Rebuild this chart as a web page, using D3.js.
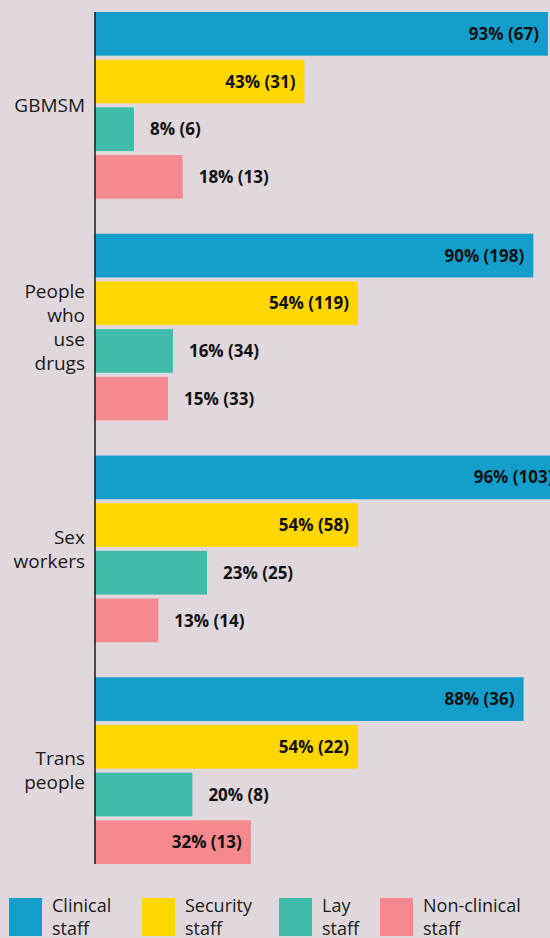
<!doctype html>
<html>
<head>
  <meta charset="utf8">
  <title>staff chart</title>
  <style>
    body {
      margin: 0;
      padding: 0;
      background: #e0d8dc;
    }
    svg { display: block; }
  </style>
</head>
<body>
  <svg></svg>

  <script src="https://d3js.org/d3.v7.min.js"></script>
  <script>
    // groups down the side, each with four staff bars
    const groups = ['GBMSM', 'People who use drugs', 'Sex workers', 'Trans people']
    const groupLines = [['GBMSM'], ['People', 'who', 'use', 'drugs'], ['Sex', 'workers'], ['Trans', 'people']]
    const series = ['Clinical staff', 'Security staff', 'Lay staff', 'Non-clinical staff']
    const seriesLines = [['Clinical', 'staff'], ['Security', 'staff'], ['Lay', 'staff'], ['Non-clinical', 'staff']]
    const colors = ['#139ecc', '#ffd700', '#3fbcac', '#f4898f']

    // percent and count, one row per group, in series order
    const percents = [
      [93, 43, 8, 18],
      [90, 54, 16, 15],
      [96, 54, 23, 13],
      [88, 54, 20, 32]
    ]
    const counts = [
      [67, 31, 6, 13],
      [198, 119, 34, 33],
      [103, 58, 25, 14],
      [36, 22, 8, 13]
    ]

    const width = 550
    const height = 938
    const font = '"Open Sans", sans-serif'

    const svg = d3.select('svg')
      .attr('width', width)
      .attr('height', height)

    const x = d3.scaleLinear()
      .domain([0, 100])
      .range([95, 582])

    const y = d3.scaleBand()
      .domain(groups)
      .range([12, 864])
      .paddingInner(0.158)

    const yInner = d3.scaleBand()
      .domain(series)
      .range([0, y.bandwidth()])
      .paddingInner(0.084)

    const rows = []
    groups.forEach((g, gi) => {
      series.forEach((s, si) => {
        rows.push({ group: g, series: s, si, pct: percents[gi][si], n: counts[gi][si] })
      })
    })

    const bars = svg.append('g')
      .selectAll('g')
      .data(rows)
      .join('g')
      .attr('transform', d => `translate(0,${y(d.group) + yInner(d.series)})`)

    bars.append('rect')
      .attr('x', x(0))
      .attr('y', 0)
      .attr('width', d => x(d.pct) - x(0))
      .attr('height', yInner.bandwidth())
      .style('fill', d => colors[d.si])

    // long bars carry their label inside, short ones just after the end
    bars.append('text')
      .attr('x', d => d.pct >= 30 ? x(d.pct) - 9 : x(d.pct) + 16)
      .attr('y', yInner.bandwidth() / 2)
      .attr('dy', '0.36em')
      .style('text-anchor', d => d.pct >= 30 ? 'end' : 'start')
      .style('font-family', font)
      .style('font-weight', 700)
      .style('font-size', '17px')
      .style('fill', '#111')
      .text(d => `${d.pct}% (${d.n})`)

    // category labels
    const lineH = 24
    svg.append('g')
      .selectAll('text')
      .data(groups)
      .join('text')
      .attr('x', 85)
      .attr('y', (d, i) => y(d) + y.bandwidth() / 2 - (groupLines[i].length - 1) * lineH / 2)
      .style('text-anchor', 'end')
      .style('font-family', font)
      .style('font-size', '19px')
      .style('fill', '#1a1a1a')
      .each(function (d, i) {
        d3.select(this).selectAll('tspan')
          .data(groupLines[i])
          .join('tspan')
          .attr('x', 85)
          .attr('dy', (t, j) => j === 0 ? '0.35em' : lineH)
          .text(t => t)
      })

    svg.append('line')
      .attr('x1', x(0))
      .attr('x2', x(0))
      .attr('y1', 12)
      .attr('y2', 864)
      .style('stroke', '#1a1a1a')
      .style('stroke-width', 1.5)

    // legend along the bottom
    const legendX = [9, 142, 279, 380]
    const legend = svg.append('g')
      .selectAll('g')
      .data(series)
      .join('g')
      .attr('transform', (d, i) => `translate(${legendX[i]},898)`)

    legend.append('rect')
      .attr('width', 33)
      .attr('height', 38)
      .style('fill', (d, i) => colors[i])

    legend.append('text')
      .style('font-family', font)
      .style('font-size', '18px')
      .style('fill', '#1a1a1a')
      .selectAll('tspan')
      .data((d, i) => seriesLines[i])
      .join('tspan')
      .attr('x', 43)
      .attr('y', (t, j) => 14 + j * 23)
      .text(t => t)
  </script>
</body>
</html>
